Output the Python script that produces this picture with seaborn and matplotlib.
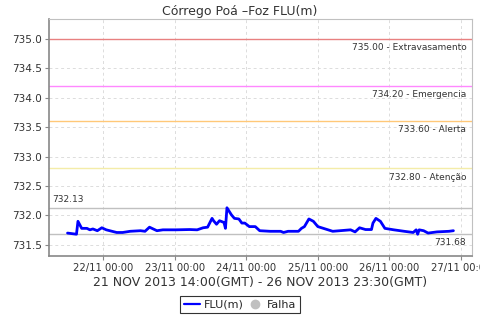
import pandas as pd
import matplotlib
matplotlib.use("Agg")
import matplotlib.pyplot as plt
import matplotlib.dates as mdates
from matplotlib.lines import Line2D
import seaborn as sns

# readings (local time) of FLU(m)
times = [
    "2013-11-21 12:00", "2013-11-21 15:00", "2013-11-21 15:30", "2013-11-21 16:45",
    "2013-11-21 18:30", "2013-11-21 19:30", "2013-11-21 20:30", "2013-11-21 22:00",
    "2013-11-21 23:30", "2013-11-22 01:00", "2013-11-22 04:30", "2013-11-22 06:30",
    "2013-11-22 09:00", "2013-11-22 12:30", "2013-11-22 14:00", "2013-11-22 15:30",
    "2013-11-22 18:00", "2013-11-22 20:00", "2013-11-23 00:30", "2013-11-23 05:00",
    "2013-11-23 07:30", "2013-11-23 09:30", "2013-11-23 11:00", "2013-11-23 12:30",
    "2013-11-23 13:00", "2013-11-23 14:00", "2013-11-23 15:00", "2013-11-23 16:30",
    "2013-11-23 17:00", "2013-11-23 17:30", "2013-11-23 19:00", "2013-11-23 20:00",
    "2013-11-23 21:30", "2013-11-23 22:30", "2013-11-23 23:30", "2013-11-24 01:00",
    "2013-11-24 03:00", "2013-11-24 04:30", "2013-11-24 08:00", "2013-11-24 11:30",
    "2013-11-24 12:30", "2013-11-24 14:00", "2013-11-24 17:30", "2013-11-24 18:30",
    "2013-11-24 19:30", "2013-11-24 21:00", "2013-11-24 22:30", "2013-11-25 00:00",
    "2013-11-25 02:30", "2013-11-25 05:00", "2013-11-25 11:00", "2013-11-25 12:30",
    "2013-11-25 14:00", "2013-11-25 16:00", "2013-11-25 18:00", "2013-11-25 18:30",
    "2013-11-25 19:30", "2013-11-25 21:00", "2013-11-25 22:30", "2013-11-26 01:30",
    "2013-11-26 05:00", "2013-11-26 08:00", "2013-11-26 09:00", "2013-11-26 09:30",
    "2013-11-26 10:00", "2013-11-26 11:30", "2013-11-26 13:00", "2013-11-26 16:00",
    "2013-11-26 20:00", "2013-11-26 21:30",
]
levels = [
    731.70, 731.68, 731.90, 731.78,
    731.78, 731.755, 731.77, 731.74,
    731.79, 731.755, 731.71, 731.71,
    731.73, 731.74, 731.73, 731.80,
    731.74, 731.755, 731.755, 731.76,
    731.755, 731.79, 731.80, 731.95,
    731.91, 731.85, 731.91, 731.88,
    731.78, 732.13, 732.01, 731.95,
    731.94, 731.87, 731.87, 731.81,
    731.81, 731.74, 731.73, 731.73,
    731.71, 731.73, 731.73, 731.78,
    731.81, 731.94, 731.90, 731.81,
    731.77, 731.73, 731.755, 731.72,
    731.79, 731.76, 731.76, 731.87,
    731.95, 731.90, 731.78, 731.755,
    731.73, 731.71, 731.755, 731.68,
    731.755, 731.74, 731.70, 731.72,
    731.73, 731.74,
]

# alert thresholds
limit_values = [735.00, 734.20, 733.60, 732.80]
limit_names = ["Extravasamento", "Emergencia", "Alerta", "Atenção"]
limit_colors = ["#e88080", "#ff88ff", "#ffc878", "#f4eca8"]

df = pd.DataFrame({"time": pd.to_datetime(times), "FLU(m)": levels})

sns.set_style("white")
plt.rcParams["font.family"] = ["DejaVu Sans"]

fig = plt.figure(figsize=(4.8, 3.2), dpi=100)
ax = fig.add_axes([0.102, 0.2, 0.881, 0.7406])

ax.grid(True, linestyle=(0, (3, 3)), color="#dcdcdc", linewidth=0.7)
ax.set_axisbelow(True)

for v, name, c in zip(limit_values, limit_names, limit_colors):
    ax.axhline(v, color=c, linewidth=1.0)
    ax.annotate(f"{v:.2f} - {name}", xy=(1, v), xycoords=("axes fraction", "data"),
                xytext=(-4, -3), textcoords="offset points", ha="right", va="top",
                fontsize=6.5, color="#333333")

vmax, vmin = df["FLU(m)"].max(), df["FLU(m)"].min()
ax.axhline(vmax, color="#c0c0c0", linewidth=1.0)
ax.axhline(vmin, color="#c0c0c0", linewidth=1.0)
ax.annotate(f"{vmax:.2f}", xy=(0, vmax), xycoords=("axes fraction", "data"),
            xytext=(2, 3), textcoords="offset points", ha="left", va="bottom",
            fontsize=6.5, color="#333333")
ax.annotate(f"{vmin:.2f}", xy=(1, vmin), xycoords=("axes fraction", "data"),
            xytext=(-4, -3), textcoords="offset points", ha="right", va="top",
            fontsize=6.5, color="#333333")

sns.lineplot(data=df, x="time", y="FLU(m)", ax=ax, color="#0000ff", linewidth=2.0)

ax.set_xlim(pd.Timestamp("2013-11-21 05:46"), pd.Timestamp("2013-11-27 03:41"))
ax.set_ylim(731.31, 735.34)
ax.set_yticks([731.5, 732.0, 732.5, 733.0, 733.5, 734.0, 734.5, 735.0])
ax.yaxis.set_major_formatter(matplotlib.ticker.FormatStrFormatter("%.1f"))
ax.xaxis.set_major_locator(mdates.DayLocator())
ax.xaxis.set_major_formatter(mdates.DateFormatter("%d/%m %H:%M"))
ax.tick_params(axis="both", labelsize=7.5, length=3, width=0.8, color="#888888",
               labelcolor="#333333", direction="out", pad=2)
ax.tick_params(axis="x", bottom=True, labelsize=7.2)
ax.tick_params(axis="y", left=True)

ax.set_ylabel("")
ax.set_xlabel("21 NOV 2013 14:00(GMT) - 26 NOV 2013 23:30(GMT)", fontsize=9,
              color="#333333", labelpad=2)

for side in ["left", "bottom"]:
    ax.spines[side].set_color("#888888")
    ax.spines[side].set_linewidth(1.2)
for side in ["top", "right"]:
    ax.spines[side].set_color("#c0c0c0")
    ax.spines[side].set_linewidth(0.8)

fig.text(0.5, 0.965, "Córrego Poá –Foz FLU(m)", ha="center", va="center",
         fontsize=9, color="#333333")

handles = [
    Line2D([0], [0], color="#0000ff", linewidth=1.6),
    Line2D([0], [0], marker="o", linestyle="", markersize=6,
           markerfacecolor="#c0c0c0", markeredgecolor="#c0c0c0"),
]
leg = fig.legend(handles, ["FLU(m)", "Falha"], loc="center", bbox_to_anchor=(0.5, 0.048),
                 ncol=2, fontsize=8, frameon=True, fancybox=False, handlelength=1.5,
                 handletextpad=0.3, columnspacing=0.3, borderpad=0.3, borderaxespad=0)
leg.get_frame().set_edgecolor("black")
leg.get_frame().set_linewidth(0.8)

fig.savefig("out.png", dpi=100)
